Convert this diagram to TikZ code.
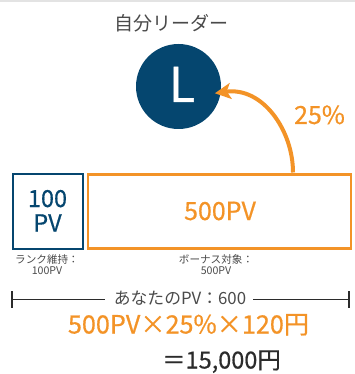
\documentclass[tikz,border=0pt]{standalone}
\usepackage{fontspec}
\setmainfont{Noto Sans CJK JP}
\newfontfamily\medfont{Noto Sans CJK JP}[FakeBold=0.6]
\usetikzlibrary{arrows.meta}
\definecolor{navy}{HTML}{05466F}
\definecolor{orng}{HTML}{F39327}
\definecolor{txtgray}{HTML}{4A4A4A}
\definecolor{dark}{HTML}{2B2B2B}
\tikzset{
  fs/.style={font=\fontsize{#1}{#1}\selectfont},
  fm/.style={font=\medfont\fontsize{#1}{#1}\selectfont},
  lbl/.style={anchor=base, inner sep=0pt},
  smalllbl/.style={anchor=base, inner sep=0pt, text=txtgray, font=\fontsize{10.6}{10.6}\selectfont},
  bracket/.style={draw=dark, line width=1.3pt},
}
\begin{document}
\begin{tikzpicture}[x=1pt,y=-1pt]
\useasboundingbox (0,0) rectangle (355,374);
\fill[gray!22] (0,0) rectangle (355,2);
% title
\node[lbl, fs=19, text=txtgray] (title) at (171.5,31) {自分リーダー};
% leader circle
\node[circle, fill=navy, minimum size=85pt, inner sep=0pt] (lead) at (178.5,86.5) {};
\node[lbl, fm=48, text=white] (L) at (182,102) {L};
% boxes
\node[draw=navy, line width=2pt, minimum width=70pt, minimum height=75pt, inner sep=0pt] (rank) at (47.5,211.5) {};
\node[lbl, fm=23.5, text=navy] (n100) at (47.5,207) {100};
\node[lbl, fm=23.5, text=navy] (npv) at (47.5,231.5) {PV};
\node[draw=orng, line width=2.6pt, minimum width=263pt, minimum height=74pt, inner sep=0pt] (bonus) at (219.5,211.5) {};
\node[lbl, fm=25, text=orng] (n500) at (220,220) {500PV};
% arrow
\coordinate (astart) at (293,172.5);
\draw[orng, line width=4pt, -{Stealth[length=16pt,width=16pt,inset=4pt]}, shorten >=-6pt]
  (astart) to[out=90, in=8] (lead.-8);
\node[lbl, fm=25, text=orng] (pct) at (319.5,124) {25\%};
% small labels
\node[smalllbl] (rlab1) at (47,263.5) {ランク維持：};
\node[smalllbl] (rlab2) at (47,274.5) {100PV};
\node[smalllbl] (blab1) at (216,263.5) {ボーナス対象：};
\node[smalllbl] (blab2) at (216,274.5) {500PV};
% bracket
\node[lbl, fs=16.8, text=txtgray] (total) at (180,304) {あなたのPV：600};
\coordinate (lt1) at (12,291);
\coordinate (lt2) at (12,308);
\coordinate (lend) at (12,299.5);
\coordinate (lmid) at (105,299.5);
\coordinate (rmid) at (253,299.5);
\coordinate (rend) at (349,299.5);
\coordinate (rt1) at (349,291);
\coordinate (rt2) at (349,308);
\draw[bracket] (lt1) -- (lt2);
\draw[bracket] (rt1) -- (rt2);
\draw[bracket] (lend) -- (lmid);
\draw[bracket] (rmid) -- (rend);
% formula
\node[lbl, fm=25.2, text=orng] (formula) at (188.5,333.5) {500PV×25\%×120円};
\node[lbl, fm=23.5, text=dark] (result) at (221.5,368.5) {＝15,000円};
\end{tikzpicture}
\end{document}
